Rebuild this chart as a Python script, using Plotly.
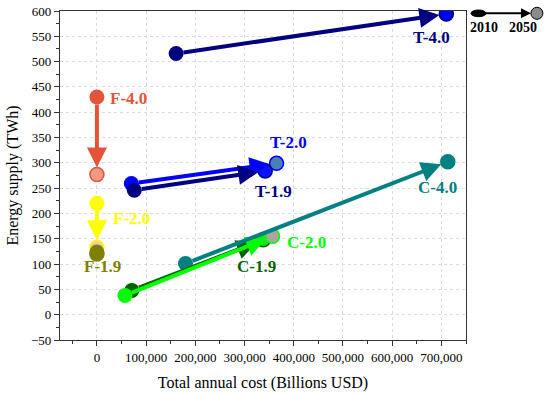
import plotly.graph_objects as go

# ---- data ----
series = ["F-4.0", "F-2.0", "F-1.9", "T-2.0", "T-1.9", "T-4.0", "C-1.9", "C-2.0", "C-4.0"]
cost_2010 = [0, 0, 0, 70000, 76000, 161000, 71000, 57000, 180000]
supply_2010 = [430, 220, 124, 259, 246, 516, 48, 38, 101]
cost_2050 = [0, 0, 0, 365000, 342000, 710000, 338000, 357000, 713000]
supply_2050 = [277, 133, 120, 299, 284, 594, 148, 155, 302]
x_ticks = [0, 100000, 200000, 300000, 400000, 500000, 600000, 700000]
y_ticks = [-50, 0, 50, 100, 150, 200, 250, 300, 350, 400, 450, 500, 550, 600]
years = ["2010", "2050"]

# ---- styles ----
line_col = {"F-4.0": "#e5533a", "F-2.0": "#ffff00", "F-1.9": "#808000",
            "T-2.0": "#0000ff", "T-1.9": "#000080", "T-4.0": "#000080",
            "C-1.9": "#006400", "C-2.0": "#00ff00", "C-4.0": "#008080"}
fill_2050 = {"F-4.0": "#f29a82", "F-2.0": "#f7c8a8", "F-1.9": "#808000",
             "T-2.0": "#4a7fb5", "T-1.9": "#0a14ff", "T-4.0": "#0000ff",
             "C-1.9": "#22dd22", "C-2.0": "#aaa59e", "C-4.0": "#008080"}
edge_2050 = {"F-4.0": "#e5533a", "F-2.0": "#ffff00", "F-1.9": "#808000",
             "T-2.0": "#0000ff", "T-1.9": "#000080", "T-4.0": "#000080",
             "C-1.9": "#006400", "C-2.0": "#00ff00", "C-4.0": "#008080"}
label_pos = {"F-4.0": (65000, 428, "center"), "F-2.0": (29000, 191, "left"),
             "F-1.9": (12000, 95, "center"), "T-2.0": (390000, 340, "center"),
             "T-1.9": (358000, 244, "center"), "T-4.0": (679000, 548, "center"),
             "C-1.9": (325000, 96, "center"), "C-2.0": (382000, 143, "left"),
             "C-4.0": (692000, 252, "center")}

FONT = "Liberation Serif, Times New Roman, serif"
XR = (-75000, 750000)
YR = (-50, 600)
FIG_W, FIG_H = 550, 394
M_L, M_R, M_T, M_B = 59.5, 84, 11, 54
PLOT_W = FIG_W - M_L - M_R
PLOT_H = FIG_H - M_T - M_B

fig = go.Figure()
annotations = []

for i, s in enumerate(series):
    # 2050 marker
    fig.add_trace(go.Scatter(
        x=[cost_2050[i]], y=[supply_2050[i]], mode="markers", showlegend=False,
        marker=dict(size=14, color=fill_2050[s], line=dict(color=edge_2050[s], width=1.5)),
        hoverinfo="skip"))
    # 2010 marker
    fig.add_trace(go.Scatter(
        x=[cost_2010[i]], y=[supply_2010[i]], mode="markers", showlegend=False,
        marker=dict(size=15, color=line_col[s], line=dict(width=0)),
        hoverinfo="skip"))
    # arrow 2010 -> 2050
    dxp = (cost_2050[i] - cost_2010[i]) / (XR[1] - XR[0]) * PLOT_W
    dyp = (supply_2050[i] - supply_2010[i]) / (YR[1] - YR[0]) * PLOT_H
    if (dxp ** 2 + dyp ** 2) ** 0.5 > 20:
        annotations.append(dict(
            x=cost_2050[i], y=supply_2050[i], xref="x", yref="y",
            ax=cost_2010[i], ay=supply_2010[i], axref="x", ayref="y",
            showarrow=True, arrowhead=2, arrowsize=1.0, arrowwidth=4,
            arrowcolor=line_col[s], standoff=7, startstandoff=6, text=""))
    lx, ly, anc = label_pos[s]
    annotations.append(dict(
        x=lx, y=ly, xref="x", yref="y", text="<b>%s</b>" % s, showarrow=False,
        xanchor=anc, yanchor="middle",
        font=dict(family=FONT, size=17, color=line_col[s])))

# ---- legend (outside plot, top right), positions given in page pixels ----
def px(x):
    return (x - M_L) / PLOT_W

def py(y):
    return (M_T + PLOT_H - y) / PLOT_H

shapes = [
    dict(type="circle", xref="paper", yref="paper",
         x0=px(471), x1=px(486), y0=py(16.7), y1=py(10), fillcolor="black",
         line=dict(color="black", width=1)),
    dict(type="circle", xref="paper", yref="paper",
         x0=px(531), x1=px(543), y0=py(19.3), y1=py(7.3), fillcolor="#8c8c8c",
         line=dict(color="black", width=1)),
]
annotations.append(dict(x=px(531), y=py(13.3), xref="paper", yref="paper",
                        ax=-47, ay=0, showarrow=True, arrowhead=2, arrowsize=1,
                        arrowwidth=2, arrowcolor="black", text=""))
annotations.append(dict(x=px(484), y=py(27.5), xref="paper", yref="paper",
                        xanchor="center", yanchor="middle",
                        text="<b>%s</b>" % years[0], showarrow=False,
                        font=dict(family=FONT, size=14, color="black")))
annotations.append(dict(x=px(523.5), y=py(27.5), xref="paper", yref="paper",
                        xanchor="center", yanchor="middle",
                        text="<b>%s</b>" % years[1], showarrow=False,
                        font=dict(family=FONT, size=14, color="black")))

axis_common = dict(showline=True, linecolor="#333333", linewidth=1.2, mirror=True,
                   ticks="outside", ticklen=5, tickcolor="#333333",
                   showgrid=True, gridcolor="#dcdcdc", griddash="dot", gridwidth=1,
                   zeroline=False, automargin=False,
                   tickfont=dict(family=FONT, size=13, color="black"))

fig.update_layout(
    width=FIG_W, height=FIG_H,
    margin=dict(l=M_L, r=M_R, t=M_T, b=M_B, autoexpand=False),
    plot_bgcolor="white", paper_bgcolor="white",
    xaxis=dict(range=list(XR), tickvals=x_ticks,
               ticktext=[f"{v:,}" for v in x_ticks],
               minor=dict(tickvals=[-50000, 50000, 150000, 250000, 350000, 450000,
                                    550000, 650000, 750000],
                          ticks="outside", ticklen=3, tickcolor="#333333", showgrid=False),
               title=dict(text="Total annual cost (Billions USD)",
                          font=dict(family=FONT, size=16, color="black"), standoff=13),
               **axis_common),
    yaxis=dict(range=list(YR), tickvals=y_ticks,
               minor=dict(dtick=25, tick0=-50, ticks="outside", ticklen=3,
                          tickcolor="#333333", showgrid=False),
               title=dict(text="Energy supply (TWh)",
                          font=dict(family=FONT, size=16, color="black"), standoff=8),
               **axis_common),
    annotations=annotations,
    shapes=shapes,
)

# remove the browser's default 8px page margin so the figure fills the window
fig.write_html("out.html", config={"displayModeBar": False},
               post_script="document.body.style.margin='0px';")
